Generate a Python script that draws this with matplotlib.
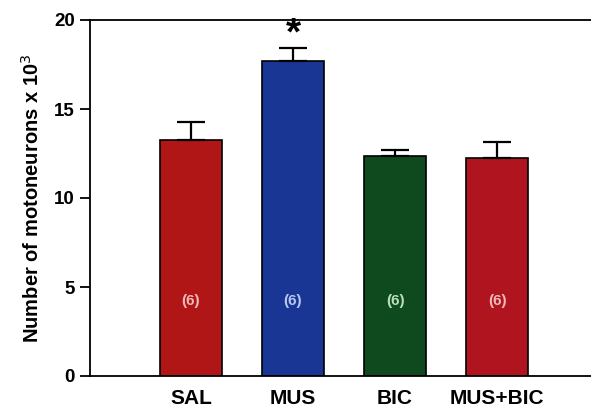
import matplotlib
matplotlib.use("Agg")
import matplotlib.pyplot as plt

categories = ["SAL", "MUS", "BIC", "MUS+BIC"]
means = [13.25, 17.7, 12.35, 12.25]
errors = [1.0, 0.72, 0.35, 0.9]
n_labels = ["(6)", "(6)", "(6)", "(6)"]
bar_colors = ["#b01616", "#1a3694", "#0f4a1e", "#b0141e"]
label_colors = ["#f0b8b8", "#b8c8f0", "#b8e0b8", "#f0b8b8"]
yticks = [0, 5, 10, 15, 20]

plt.rcParams['font.family'] = ['Liberation Sans', 'DejaVu Sans']

fig = plt.figure(figsize=(5.91, 4.09), dpi=100)
ax = fig.add_axes([90/591, 1-376/409, (591-90)/591, (376-20)/409])

x = list(range(len(categories)))
ax.bar(x, means, width=0.61, color=bar_colors, edgecolor="black", linewidth=1.2, zorder=2)
for xi, m, e in zip(x, means, errors):
    ax.errorbar([xi], [m], yerr=[[0], [e]], fmt="none", ecolor="black",
                elinewidth=1.6, capsize=10, capthick=1.6, zorder=3)
for xi, lab, c in zip(x, n_labels, label_colors):
    ax.text(xi, 4.2, lab, ha="center", va="center", color=c, fontsize=11, fontweight="bold")
ax.text(1, 18.2, "*", ha="center", va="bottom", fontsize=28, fontweight="bold")

ax.set_xlim(-0.99, 3.92)
ax.set_ylim(0, 20)
ax.set_yticks(yticks)
ax.set_yticklabels([str(t) for t in yticks], fontsize=13.5, fontweight="bold")
ax.set_xticks(x)
ax.set_xticklabels(categories, fontsize=15, fontweight="bold")
ax.tick_params(axis="x", length=0, pad=9)
ax.tick_params(axis="y", direction="out", length=7, width=1.3, pad=4)
ax.spines["right"].set_visible(False)
for s in ["left", "bottom", "top"]:
    ax.spines[s].set_linewidth(1.3)
ax.set_ylabel("Number of motoneurons x 10$^3$", fontsize=14.5, fontweight="bold", labelpad=8)

fig.savefig("out.png", dpi=100)
